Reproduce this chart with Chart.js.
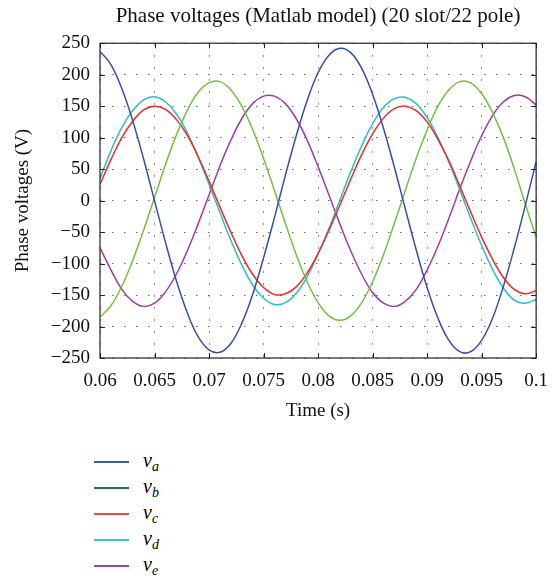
<!DOCTYPE html>
<html>
<head>
<meta charset="utf-8">
<script src="https://cdn.jsdelivr.net/npm/chart.js@4/dist/chart.umd.min.js"></script>
<style>
  html, body { margin: 0; padding: 0; background: #fff; }
  #wrap { position: relative; width: 560px; height: 582px; }
  #box { position: absolute; left: 0; top: 0; width: 560px; height: 430px; }
  #legend { position: absolute; left: 0; top: 0; font-family: "Liberation Serif", serif; }
  .item { position: absolute; height: 26px; }
  .item .ln { position: absolute; left: 94px; top: 12px; width: 35px; height: 2px; }
  .item .tx { position: absolute; left: 143px; top: 0; font-size: 20px; font-style: italic; line-height: 22px; white-space: nowrap; }
  .item .tx sub { font-size: 14px; vertical-align: -4px; }
</style>
</head>
<body>
<div id="wrap">
  <div id="box"><canvas id="grafico"></canvas></div>
  <div id="legend"></div>
</div>
<script>
// Tempo (s)
const times = [0.060, 0.061, 0.062, 0.063, 0.064, 0.065, 0.066, 0.067, 0.068, 0.069,
               0.070, 0.071, 0.072, 0.073, 0.074, 0.075, 0.076, 0.077, 0.078, 0.079,
               0.080, 0.081, 0.082, 0.083, 0.084, 0.085, 0.086, 0.087, 0.088, 0.089,
               0.090, 0.091, 0.092, 0.093, 0.094, 0.095, 0.096, 0.097, 0.098, 0.099, 0.100];

// Tensões de fase (V)
const va = [237, 216, 178, 127, 66, 0, -66, -127, -178, -216,
            -237, -241, -227, -195, -149, -91, -27, 40, 103, 159,
            203, 231, 242, 235, 210, 169, 115, 53, -13, -78,
            -138, -187, -222, -240, -240, -222, -187, -136, -75, -8, 62];
const vb = [-185, -167, -136, -95, -47, 5, 57, 104, 143, 172,
            187, 189, 176, 150, 113, 67, 16, -36, -86, -129,
            -162, -183, -190, -183, -162, -129, -86, -36, 16, 67,
            112, 150, 176, 189, 187, 170, 140, 100, 50, -5, -58];
const vc = [26, 65, 100, 126, 144, 150, 145, 129, 104, 70,
            31, -10, -50, -87, -117, -138, -149, -148, -137, -115,
            -84, -47, -7, 34, 73, 106, 131, 146, 150, 143,
            125, 97, 63, 23, -18, -58, -93, -122, -141, -148, -143];
const vd = [35, 79, 116, 143, 160, 165, 157, 138, 108, 69,
            26, -19, -63, -102, -134, -155, -165, -162, -147, -121,
            -85, -44, 1, 46, 87, 122, 148, 162, 164, 154,
            132, 100, 61, 17, -28, -71, -109, -139, -158, -163, -157];
const ve = [-75, -110, -141, -160, -168, -163, -145, -117, -80, -37,
            9, 55, 96, 130, 154, 166, 166, 154, 130, 96,
            54, 9, -37, -80, -117, -146, -163, -168, -160, -141,
            -110, -72, -28, 19, 63, 103, 135, 157, 167, 165, 152];

const seriesNames = ['a', 'b', 'c', 'd', 'e'];
const lineColors = ['#3450a8', '#72c043', '#f02828', '#2cc0c4', '#a03ca0'];
const legendColors = ['#3c5cb4', '#1e7a3c', '#f04848', '#30c8c8', '#a040a0'];

const xTicks = [0.06, 0.065, 0.07, 0.075, 0.08, 0.085, 0.09, 0.095, 0.1];
const xTickLabels = ['0.06', '0.065', '0.07', '0.075', '0.08', '0.085', '0.09', '0.095', '0.1'];
const yTicks = [-250, -200, -150, -100, -50, 0, 50, 100, 150, 200, 250];
const yTickLabels = ['\u2212250', '\u2212200', '\u2212150', '\u2212100', '\u221250', '0', '50', '100', '150', '200', '250'];

const serif = '"Liberation Serif", "DejaVu Serif", serif';

const datasets = [va, vb, vc, vd, ve].map((vals, i) => ({
    label: 'v' + seriesNames[i],
    data: times.map((t, k) => ({ x: t, y: vals[k] })),
    borderColor: lineColors[i],
    borderWidth: 1.5,
    pointRadius: 0,
    tension: 0.4,
    fill: false
}));

// Caixa e marcas internas estilo Matlab
const boxPlugin = {
    id: 'boxPlugin',
    afterDraw(chart) {
        const { ctx, chartArea: a, scales: { x, y } } = chart;
        const len = 5;
        ctx.save();
        ctx.strokeStyle = '#222';
        ctx.lineWidth = 1;
        ctx.beginPath();
        xTicks.forEach(v => {
            const px = Math.round(x.getPixelForValue(v)) + 0.5;
            ctx.moveTo(px, a.bottom); ctx.lineTo(px, a.bottom - len);
            ctx.moveTo(px, a.top); ctx.lineTo(px, a.top + len);
        });
        yTicks.forEach(v => {
            const py = Math.round(y.getPixelForValue(v)) + 0.5;
            ctx.moveTo(a.left, py); ctx.lineTo(a.left + len, py);
            ctx.moveTo(a.right, py); ctx.lineTo(a.right - len, py);
        });
        ctx.stroke();
        ctx.lineWidth = 1.2;
        ctx.strokeRect(a.left, a.top, a.right - a.left, a.bottom - a.top);
        ctx.restore();
    }
};

const chart = new Chart(document.getElementById('grafico').getContext('2d'), {
    type: 'line',
    data: { datasets },
    plugins: [boxPlugin],
    options: {
        responsive: true,
        maintainAspectRatio: false,
        animation: false,
        layout: { padding: { left: 0, right: 17, top: 0, bottom: 0 } },
        scales: {
            x: {
                type: 'linear',
                min: 0.06,
                max: 0.1,
                afterBuildTicks: s => { s.ticks = xTicks.map(v => ({ value: v })); },
                afterFit: s => { s.height = 72; },
                ticks: {
                    padding: 12,
                    color: '#111',
                    font: { family: serif, size: 19 },
                    maxRotation: 0,
                    callback: (v, i) => xTickLabels[i]
                },
                grid: { color: '#666', drawTicks: false },
                border: { display: false, dash: [1.5, 10.5] },
                title: {
                    display: true,
                    text: 'Time (s)',
                    color: '#111',
                    font: { family: serif, size: 19 },
                    padding: { top: 0, bottom: 8 }
                }
            },
            y: {
                min: -250,
                max: 250,
                afterBuildTicks: s => { s.ticks = yTicks.map(v => ({ value: v })); },
                afterFit: s => { s.width = 100; },
                ticks: {
                    padding: 10,
                    color: '#111',
                    font: { family: serif, size: 19 },
                    callback: (v, i) => yTickLabels[i]
                },
                grid: { color: '#666', drawTicks: false },
                border: { display: false, dash: [1.5, 10.5] },
                title: {
                    display: true,
                    text: 'Phase voltages (V)',
                    color: '#111',
                    font: { family: serif, size: 19 },
                    padding: { top: 12, bottom: 0 }
                }
            }
        },
        plugins: {
            legend: { display: false },
            tooltip: { enabled: false },
            title: {
                display: true,
                fullSize: false,
                text: 'Phase voltages (Matlab model) (20 slot/22 pole)',
                color: '#111',
                font: { family: serif, size: 21, weight: 'normal' },
                padding: { top: 4, bottom: 14 }
            }
        }
    }
});

// Legenda em HTML (subscritos)
const legend = document.getElementById('legend');
chart.data.datasets.forEach((ds, i) => {
    const row = document.createElement('div');
    row.className = 'item';
    row.style.top = (449 + 26 * i) + 'px';
    row.innerHTML = '<span class="ln" style="background:' + legendColors[i] + '"></span>' +
        '<span class="tx">v<sub>' + seriesNames[i] + '</sub></span>';
    legend.appendChild(row);
});
</script>
</body>
</html>
